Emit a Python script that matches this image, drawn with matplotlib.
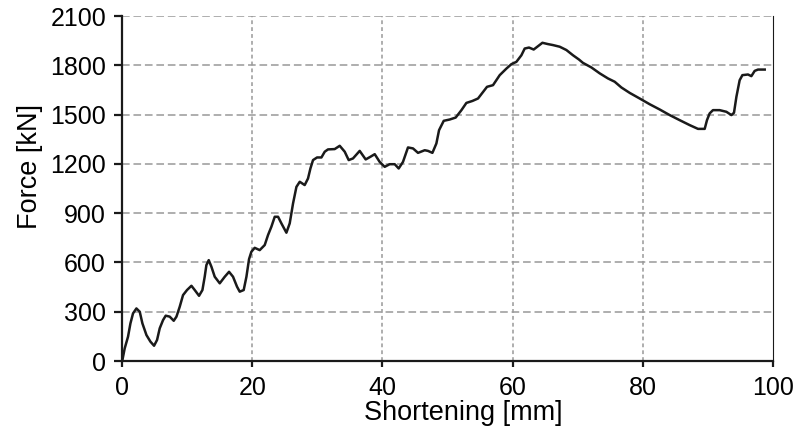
import matplotlib
matplotlib.use("Agg")
from matplotlib import pyplot as plt

# load-shortening curve of the column test
shortening = [0.0, 0.06, 0.41, 0.92, 1.29, 1.69, 2.21, 2.72, 3.13, 3.75, 4.36, 4.92,
              5.38, 5.79, 6.30, 6.71, 7.33, 7.94, 8.36, 8.86, 9.37, 9.98, 10.66,
              11.17, 11.83, 12.35, 12.70, 12.96, 13.32, 13.73, 14.24, 15.01, 15.78,
              16.44, 17.05, 17.67, 18.08, 18.69, 19.11, 19.51, 19.87, 20.38, 21.15,
              21.92, 22.43, 22.94, 23.46, 23.97, 24.48, 25.25, 25.76, 26.27, 26.79,
              27.30, 28.06, 28.57, 28.94, 29.34, 29.96, 30.63, 31.14, 31.64, 32.67,
              33.44, 34.21, 34.82, 35.48, 36.51, 37.43, 38.15, 38.82, 39.58, 40.35,
              41.12, 41.89, 42.50, 43.16, 43.93, 44.70, 45.47, 46.50, 47.00, 47.68,
              48.29, 48.70, 49.42, 50.34, 51.26, 52.14, 52.90, 53.83, 54.69, 55.46,
              56.07, 56.99, 58.02, 59.05, 59.82, 60.58, 61.35, 61.86, 62.52, 63.24,
              63.90, 64.58, 65.44, 66.21, 67.24, 68.26, 69.28, 70.20, 70.80, 72.10,
              73.38, 74.65, 75.68, 76.71, 77.99, 79.52, 81.06, 82.60, 84.13, 85.67,
              87.20, 88.48, 89.51, 89.86, 90.27, 90.78, 91.81, 92.84, 93.61, 94.01,
              94.38, 94.88, 95.30, 96.16, 96.68, 97.19, 97.70, 98.73]
force = [0, 6, 77, 148, 229, 290, 320, 300, 229, 158, 118, 93,
         128, 199, 249, 276, 270, 245, 270, 330, 401, 432, 458,
         432, 397, 432, 513, 584, 614, 574, 513, 473, 513,
         543, 513, 452, 422, 432, 513, 620, 665, 689, 675,
         706, 767, 817, 878, 878, 838, 781, 838, 959, 1060,
         1091, 1071, 1111, 1172, 1223, 1239, 1239, 1274, 1288, 1290,
         1310, 1274, 1223, 1233, 1279, 1227, 1243, 1259, 1212, 1182,
         1198, 1198, 1172, 1212, 1300, 1294, 1267, 1283, 1279, 1267,
         1324, 1405, 1462, 1470, 1482, 1527, 1571, 1583, 1598, 1638,
         1669, 1679, 1740, 1780, 1807, 1821, 1861, 1902, 1908, 1896,
         1916, 1937, 1929, 1923, 1913, 1893, 1861, 1835, 1815, 1787,
         1751, 1720, 1700, 1665, 1632, 1598, 1563, 1531, 1497, 1466,
         1436, 1413, 1413, 1466, 1507, 1527, 1527, 1517, 1497, 1511,
         1608, 1709, 1740, 1744, 1734, 1766, 1774, 1774]

x_ticks = [0, 20, 40, 60, 80, 100]
y_ticks = [0, 300, 600, 900, 1200, 1500, 1800, 2100]

plt.rcParams['font.family'] = ['Liberation Sans', 'DejaVu Sans']

fig = plt.figure(figsize=(7.95, 4.28), dpi=100)
ax = fig.add_axes([0.1535, 0.1565, 0.8188, 0.8061])

# grid: long dashes horizontally, short dashes vertically
for v in y_ticks[1:]:
    ax.axhline(v, color='#999999', lw=1.1, dashes=(5, 2.5), zorder=1)
for v in x_ticks[1:-1]:
    ax.axvline(v, color='#999999', lw=1.1, dashes=(2.5, 2), zorder=1)

ax.plot(shortening, force, color='#1a1a1a', lw=1.8, zorder=3)

ax.set_xlim(0, 100)
ax.set_ylim(0, 2100)
ax.set_xticks(x_ticks)
ax.set_yticks(y_ticks)

ax.spines['top'].set_visible(False)
ax.spines['left'].set_linewidth(1.6)
ax.spines['bottom'].set_linewidth(1.6)
ax.spines['right'].set_linewidth(0.8)
for s in ('left', 'bottom', 'right'):
    ax.spines[s].set_color('#1a1a1a')

ax.tick_params(axis='both', direction='out', width=1.6, labelsize=18,
               color='#1a1a1a')
ax.tick_params(axis='x', length=4.5, pad=6.5)
ax.tick_params(axis='y', length=6, pad=5.5)

ax.set_xlabel('Shortening [mm]', fontsize=19.5)
ax.set_ylabel('Force [kN]', fontsize=19.5)
ax.xaxis.set_label_coords(0.524, -0.113)
ax.yaxis.set_label_coords(-0.121, 0.565)

fig.savefig('out.png', dpi=100)
